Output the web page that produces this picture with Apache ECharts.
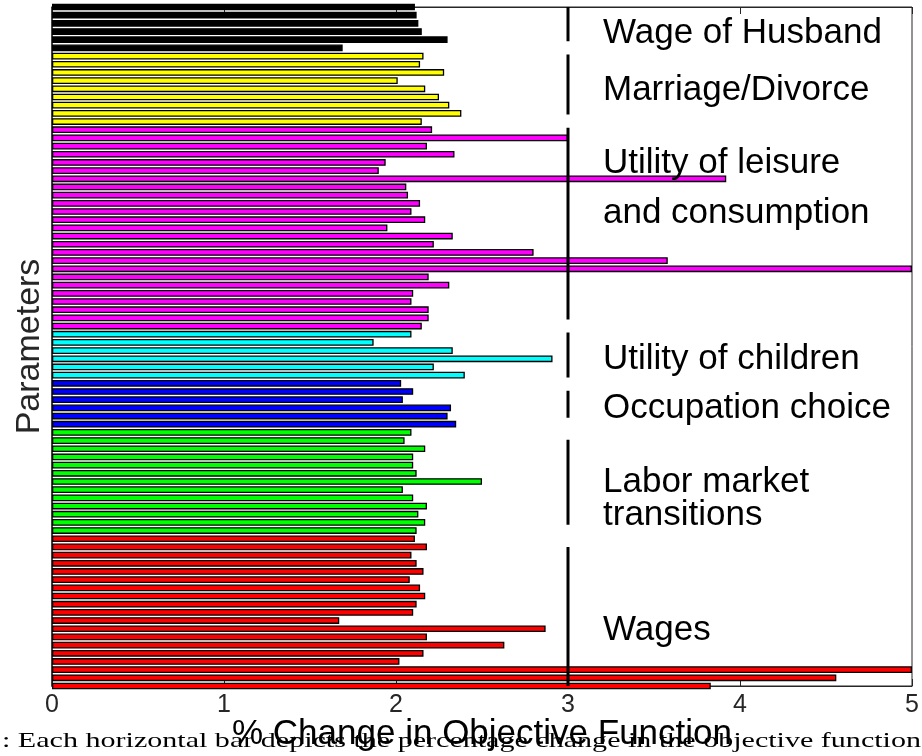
<!DOCTYPE html>
<html><head><meta charset="utf-8">
<script src="https://cdn.jsdelivr.net/npm/echarts@6/dist/echarts.min.js"></script>
<style>html,body{margin:0;padding:0;background:#fff}#c{width:922px;height:756px}</style>
</head><body><div id="c"></div><script>
// ---------------- data ----------------
const groupNames = ['Wage of Husband', 'Marriage/Divorce', 'Utility of leisure and consumption', 'Utility of children', 'Occupation choice', 'Labor market transitions', 'Wages'];
const groupColors = ['#000000', '#ffff00', '#ff00ff', '#00ffff', '#0000ff', '#00ff00', '#ff0000'];
const wageHusband = [2.11, 2.12, 2.13, 2.15, 2.30, 1.69];
const marriageDivorce = [2.16, 2.14, 2.28, 2.01, 2.17, 2.25, 2.31, 2.38, 2.15];
const utilityLeisure = [2.21, 3.00, 2.18, 2.34, 1.94, 1.90, 3.92, 2.06, 2.07, 2.14, 2.09, 2.17, 1.95, 2.33, 2.22, 2.80, 3.58, 5.00, 2.19, 2.31, 2.10, 2.09, 2.19, 2.19, 2.15];
const utilityChildren = [2.09, 1.87, 2.33, 2.91, 2.22, 2.40];
const occupationChoice = [2.03, 2.10, 2.04, 2.32, 2.30, 2.35];
const laborMarket = [2.09, 2.05, 2.17, 2.10, 2.10, 2.12, 2.50, 2.04, 2.10, 2.18, 2.13, 2.17, 2.12];
const wages = [2.11, 2.18, 2.09, 2.12, 2.16, 2.08, 2.14, 2.17, 2.12, 2.10, 1.67, 2.87, 2.18, 2.63, 2.16, 2.02, 5.00, 4.56, 3.83];
const xTickValues = [0, 1, 2, 3, 4, 5];
// dashed reference line at x = 3, spans in parameter-index units (0 = top parameter)
const referenceX = 3;
const dividerSpans = [[0, 4.2], [5.8, 13.15], [14.75, 38.2], [39.8, 45.3], [46.9, 50.2], [52.9, 63.3], [66.0, 83]];
const labelLines = ['Wage of Husband', 'Marriage/Divorce', 'Utility of leisure', 'and consumption', 'Utility of children', 'Occupation choice', 'Labor market', 'transitions', 'Wages'];
const captionText = ': Each horizontal bar depicts the percentage change in the objective function';

// ---------------- build ----------------
const groupValues = [wageHusband, marriageDivorce, utilityLeisure, utilityChildren, occupationChoice, laborMarket, wages];
const categories = [];
const barData = [];
groupValues.forEach((arr, g) => arr.forEach(v => {
  categories.push('P' + (categories.length + 1));
  barData.push({ value: v, itemStyle: { color: groupColors[g] } });
}));
const nParams = categories.length;

const chart = echarts.init(document.getElementById('c'), null, { renderer: 'canvas' });

const dividerSeries = dividerSpans.map(s => ({
  type: 'line', xAxisIndex: 0, yAxisIndex: 1,
  data: [[referenceX, s[0]], [referenceX, s[1]]],
  symbol: 'none', silent: true, z: 5,
  lineStyle: { color: '#000', width: 3, cap: 'butt' }
}));

// annotation text positions (pixels)
const labelPos = [[603, 33], [603, 90], [603, 163.5], [603, 213.5], [603, 359.5], [603, 408], [603, 482], [603, 515], [603, 630.5]];

// caption scaling to match width
const ctx = document.createElement('canvas').getContext('2d');
ctx.font = '22px "Liberation Serif"';
const capW = ctx.measureText(captionText).width;
const capScale = 919 / capW;

const sans = '"Liberation Sans", Arial, Helvetica, sans-serif';

chart.setOption({
  animation: false,
  backgroundColor: '#fff',
  grid: { left: 52, right: 10, top: 7, bottom: 70, outerBoundsMode: 'none', containLabel: false,
    show: true, borderColor: '#262626', borderWidth: 1, backgroundColor: 'transparent' },
  xAxis: [{
    type: 'value', min: 0, max: 5, interval: 1, position: 'bottom',
    axisLine: { show: true, onZero: false, lineStyle: { color: '#262626', width: 1 } },
    axisTick: { show: true, inside: true, length: 7, lineStyle: { color: '#262626' } },
    axisLabel: { fontSize: 25, color: '#262626', margin: 7, fontFamily: sans, customValues: xTickValues },
    splitLine: { show: false },
    name: '% Change in Objective Function', nameLocation: 'middle', nameGap: 31, nameMoveOverlap: false,
    nameTextStyle: { fontSize: 35, color: '#000', fontFamily: sans }
  }, {
    type: 'value', min: 0, max: 5, interval: 1, position: 'top',
    axisLine: { show: true, onZero: false, lineStyle: { color: '#262626', width: 1 } },
    axisTick: { show: true, inside: true, length: 7, lineStyle: { color: '#262626' } },
    axisLabel: { show: false }, splitLine: { show: false }
  }],
  yAxis: [{
    type: 'category', data: categories, inverse: true, boundaryGap: false,
    axisLine: { show: true, onZero: false, lineStyle: { color: '#262626', width: 1.5 } },
    axisTick: { show: false }, axisLabel: { show: false }, splitLine: { show: false },
    name: 'Parameters', nameLocation: 'middle', nameGap: 5, nameRotate: 90, nameMoveOverlap: false,
    nameTextStyle: { fontSize: 34, color: '#262626', fontFamily: sans }
  }, {
    type: 'value', min: 0, max: nParams - 1, inverse: true, show: false
  }],
  series: [{
    type: 'bar', xAxisIndex: 0, yAxisIndex: 0, data: barData, barWidth: '82%', clip: true, z: 2,
    itemStyle: { borderColor: '#000', borderWidth: 1.3 }
  }].concat(dividerSeries),
  graphic: labelLines.map((t, i) => ({
    type: 'text', x: labelPos[i][0], y: labelPos[i][1], z: 10, silent: true,
    style: { text: t, fill: '#000', font: '35px ' + sans, textAlign: 'left', textVerticalAlign: 'middle', verticalAlign: 'middle' }
  })).concat([{
    type: 'text', x: 2, y: 741, z: 0, silent: true, scaleX: capScale, originX: 0,
    style: { text: captionText, fill: '#000', font: '22px "Liberation Serif", serif', textAlign: 'left', textVerticalAlign: 'middle', verticalAlign: 'middle' }
  }])
});
</script></body></html>
